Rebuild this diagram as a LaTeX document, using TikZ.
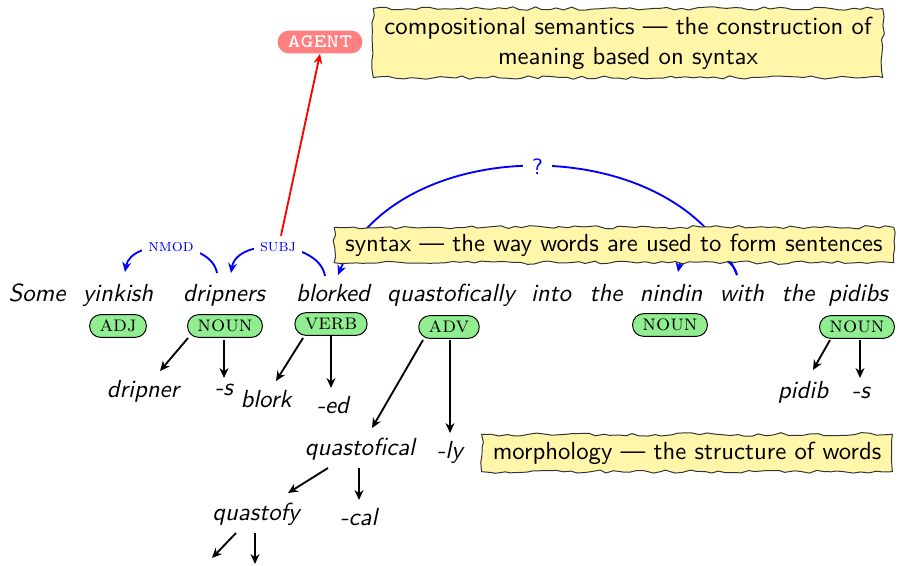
\documentclass[tikz,border=0pt]{standalone}
\usetikzlibrary{calc,decorations.pathmorphing,arrows.meta}
\definecolor{taggreen}{RGB}{144,238,144}
\definecolor{noteyellow}{RGB}{255,246,170}
\definecolor{agentred}{RGB}{255,128,128}
\tikzset{
  tip/.style={-{Stealth[length=4pt,width=3.6pt,inset=1.3pt]}},
  word/.style={font=\sffamily\itshape, anchor=base, inner sep=0pt},
  tagbox/.style={draw=black, fill=taggreen, rounded corners=4.5pt, font=\small\scshape, inner xsep=4pt, inner ysep=0pt, minimum height=9.2pt},
  deplbl/.style={font=\scriptsize\scshape, text=blue, fill=white, inner sep=2.5pt},
  dep/.style={blue, line width=0.75pt, tip},
  morph/.style={black, line width=0.75pt, tip},
  note/.style={draw=black!80, fill=noteyellow, font=\sffamily, decorate, decoration={random steps, segment length=3pt, amplitude=0.7pt}, inner xsep=4.5pt, inner ysep=2.6pt, align=center},
  agentbox/.style={fill=agentred, text=white, font=\ttfamily\scshape, rounded corners=4.5pt, inner xsep=4pt, inner ysep=0pt, minimum height=9.2pt}
}
\pgfmathsetseed{3}
\begin{document}
\begin{tikzpicture}[x=0.4045pt, y=-0.4045pt]
\useasboundingbox (0,0) rectangle (898,565);
% words
\node[word] (w1) at (37,301) {Some};
\node[word] (w2) at (118,301) {yinkish};
\node[word] (w3) at (224,301) {dripners};
\node[word] (w4) at (333,301) {blorked};
\node[word] (w5) at (451,301) {quastofically};
\node[word] (w6) at (551,301) {into};
\node[word] (w7) at (606,301) {the};
\node[word] (w8) at (671,301) {nindin};
\node[word] (w9) at (742,301) {with};
\node[word] (w10) at (798,301) {the};
\node[word] (w11) at (858,301) {pidibs};
% tags
\node[tagbox] (t1) at (118,326) {adj};
\node[tagbox] (t2) at (225,326) {noun};
\node[tagbox] (t3) at (331,324) {verb};
\node[tagbox] (t4) at (449,327) {adv};
\node[tagbox] (t5) at (670,325) {noun};
\node[tagbox] (t6) at (857,327) {noun};
% morphemes
\node[word] (m1) at (143,397) {dripner};
\node[word] (m2) at (224,395) {-s};
\node[word] (m3) at (266,407) {blork};
\node[word] (m4) at (333,413) {-ed};
\node[word] (m5) at (360,455) {quastofical};
\node[word] (m6) at (450,458) {-ly};
\node[word] (m7) at (256,520) {quastofy};
\node[word] (m8) at (359,525) {-cal};
\node[word] (m9) at (803,398) {pidib};
\node[word] (m10) at (861,398) {-s};
\coordinate (q1) at (212,558);
\coordinate (q2) at (255,564);
% morphology arrows
\draw[morph] ($(t2)+(-37,12)$) -- ($(m1.base)+(17,-26)$);
\draw[morph] ($(t2)+(-1,14)$) -- ($(m2.base)+(0,-17)$);
\draw[morph] ($(t3)+(-28,14)$) -- ($(m3.base)+(10,-26)$);
\draw[morph] ($(t3)+(0,12)$) -- ($(m4.base)+(-2,-25)$);
\draw[morph] ($(t4)+(-26,13)$) -- ($(m5.base)+(12,-27)$);
\draw[morph] ($(t4)+(1,13)$) -- ($(m6.base)+(0,-25)$);
\draw[morph] ($(m5.base)+(-32,13)$) -- ($(m7.base)+(32,-27)$);
\draw[morph] ($(m5.base)+(-1,13)$) -- ($(m8.base)+(0,-25)$);
\draw[morph] ($(m7.base)+(-20,13)$) -- (q1);
\draw[morph] ($(m7.base)+(-1,13)$) -- (q2);
\draw[morph] ($(t6)+(-27,13)$) -- ($(m9.base)+(10,-28)$);
\draw[morph] ($(t6)+(3,13)$) -- ($(m10.base)+(-1,-20)$);
% dependency arcs
\draw[dep] ($(w3.base)+(-7,-28)$) .. controls +(-6,-34) and +(6,-34) .. ($(w2.base)+(7,-29)$) node[midway, deplbl] (nmod) {nmod};
\draw[dep] ($(w4.base)+(-8,-25)$) .. controls +(-6,-36) and +(6,-36) .. ($(w3.base)+(7,-28)$) node[midway, deplbl] (subj) {subj};
\draw[dep] ($(w9.base)+(-5,-26)$) .. controls +(-60,-145) and +(60,-145) .. ($(w4.base)+(5,-26)$) node[midway, deplbl, font=\small\sffamily, inner xsep=3.5pt] (q) {?};
\draw[dep] ($(w9.base)+(-5,-26)$) .. controls +(-5,-25) and +(5,-25) .. ($(w8.base)+(7,-29)$);
% agent
\node[agentbox] (agent) at (320,42) {agent};
\draw[red, line width=0.75pt, tip] ($(subj.north)+(3,0)$) -- (agent.south);
% notes
\node[note, inner ysep=3.4pt] (sem) at (628,43) {compositional semantics --- the construction of\\meaning based on syntax};
\node[note] (syn) at (614,245) {syntax --- the way words are used to form sentences};
\node[note, inner ysep=3pt] (mor) at (687,453) {morphology --- the structure of words};
\end{tikzpicture}
\end{document}
